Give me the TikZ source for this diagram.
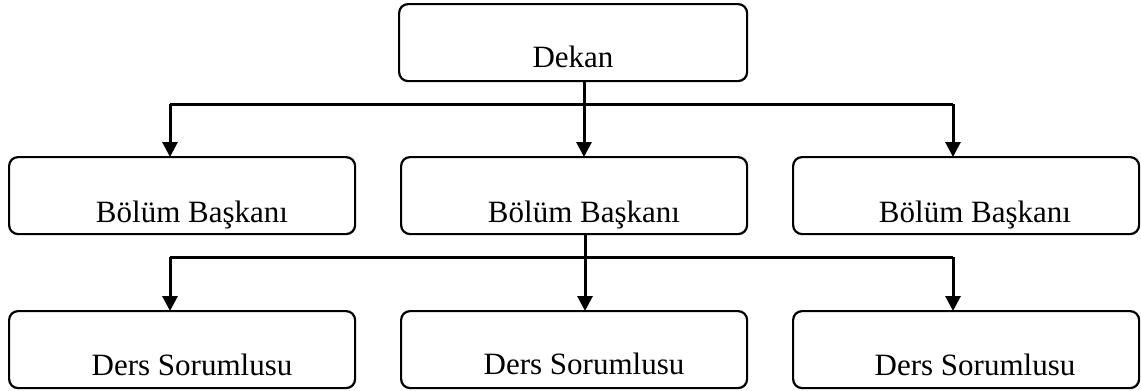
\documentclass[tikz,border=0pt]{standalone}
\usepackage{fontspec}
\setmainfont{Liberation Serif}
\usetikzlibrary{arrows.meta}
\tikzset{
  orgbox/.style={draw=black, line width=2.2pt, rounded corners=9pt, fill=white,
    minimum width=346pt, minimum height=77pt, inner sep=0pt, anchor=north west},
  orgtext/.style={anchor=base, inner sep=0pt, font=\fontsize{31}{36}\selectfont},
  conn/.style={draw=black, line width=3pt},
  connarrow/.style={conn, -{Triangle[width=15pt,length=15pt]}, shorten >=-1pt}
}
\begin{document}
\begin{tikzpicture}[x=1pt, y=-1pt]
  \useasboundingbox (0,0) rectangle (1141,391);

  % boxes
  \node[orgbox, minimum width=348pt] (dekan) at (398,3) {};
  \node[orgbox] (b1) at (8,156) {};
  \node[orgbox] (b2) at (400,156) {};
  \node[orgbox] (b3) at (792,156) {};
  \node[orgbox] (d1) at (8,310) {};
  \node[orgbox] (d2) at (400,310) {};
  \node[orgbox] (d3) at (792,310) {};

  % labels
  \node[orgtext] (dekan-t) at (573,67) {Dekan};
  \node[orgtext] (b1-t) at (192,222) {Bölüm Başkanı};
  \node[orgtext] (b2-t) at (584,222) {Bölüm Başkanı};
  \node[orgtext] (b3-t) at (975,222) {Bölüm Başkanı};
  \node[orgtext] (d1-t) at (192,375) {Ders Sorumlusu};
  \node[orgtext] (d2-t) at (584,374) {Ders Sorumlusu};
  \node[orgtext] (d3-t) at (975,375) {Ders Sorumlusu};

  % branch points
  \coordinate (r1a) at (584,80);
  \coordinate (r1L) at (170,104);
  \coordinate (r1M) at (584,104);
  \coordinate (r1R) at (953,104);
  \coordinate (r2a) at (585,233);
  \coordinate (r2L) at (170,257);
  \coordinate (r2M) at (585,257);
  \coordinate (r2R) at (953,257);

  % Dekan -> Bölüm Başkanı
  \draw[conn] (r1L) -- (r1R);
  \draw[connarrow] (dekan.south -| r1a) -- (b2.north -| r1M);
  \draw[connarrow] (r1L) -- (b1.north -| r1L);
  \draw[connarrow] (r1R) -- (b3.north -| r1R);

  % Bölüm Başkanı -> Ders Sorumlusu
  \draw[conn] (r2L) -- (r2R);
  \draw[connarrow] (b2.south -| r2a) -- (d2.north -| r2M);
  \draw[connarrow] (r2L) -- (d1.north -| r2L);
  \draw[connarrow] (r2R) -- (d3.north -| r2R);
\end{tikzpicture}
\end{document}
